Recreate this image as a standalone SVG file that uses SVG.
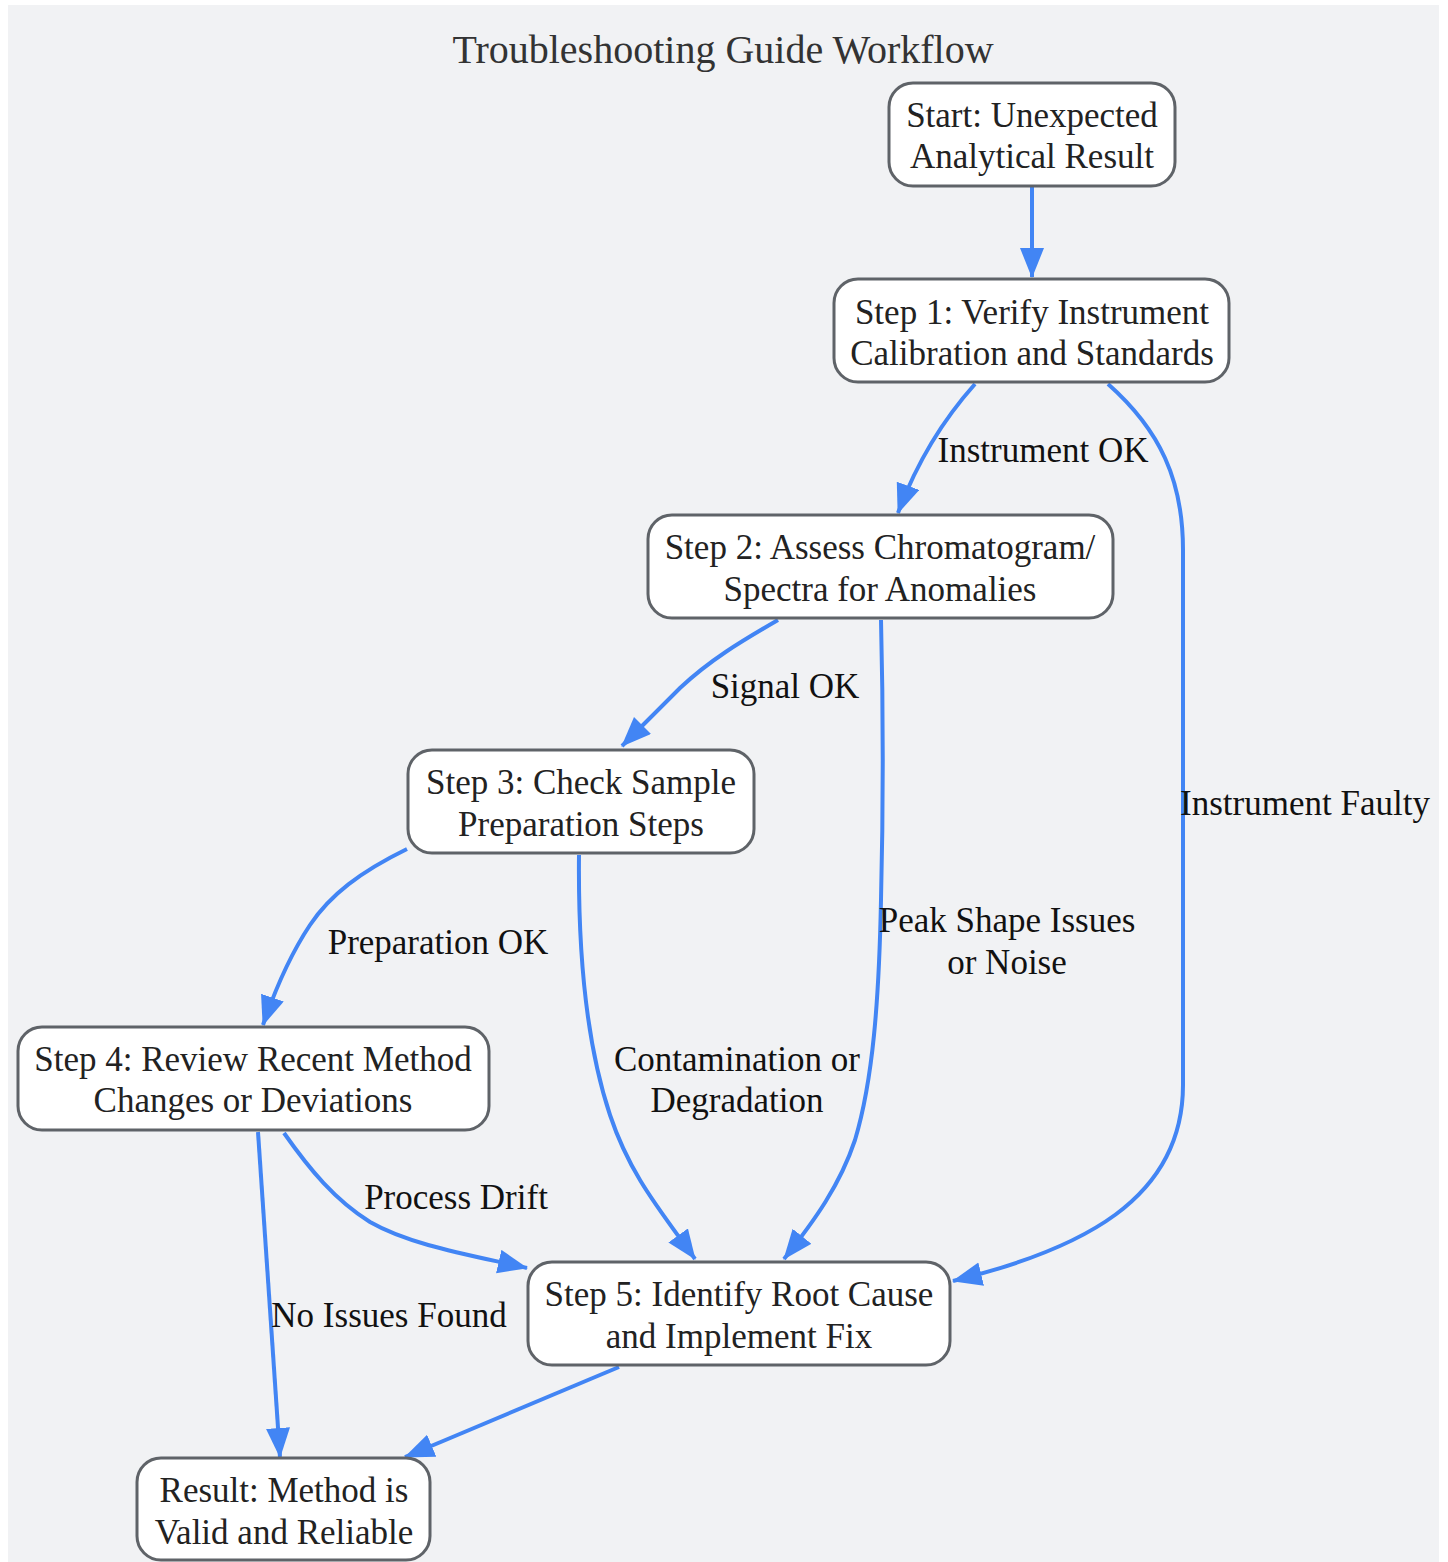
<svg xmlns="http://www.w3.org/2000/svg" width="1448" height="1562" viewBox="0 0 1448 1562">
<style>
.node rect{fill:#ffffff;stroke:#5f6368;stroke-width:3}
.node text{font-family:"Liberation Serif","Times New Roman",serif;font-size:35px;fill:#222222;text-anchor:middle}
.edge{fill:none;stroke:#4285f4;stroke-width:4;marker-end:url(#arrow)}
.lbl{font-family:"Liberation Serif","Times New Roman",serif;font-size:35px;fill:#111111;text-anchor:middle}
.title{font-family:"Liberation Serif","Times New Roman",serif;font-size:40px;fill:#333333;text-anchor:middle}
</style>
<defs>
<marker id="arrow" markerUnits="userSpaceOnUse" markerWidth="32" markerHeight="26" refX="29" refY="12" orient="auto">
<path d="M0,0 L30,12 L0,24 z" fill="#4285f4"/>
</marker>
</defs>
<rect x="0" y="0" width="1448" height="1562" fill="#ffffff"/>
<rect x="8" y="5" width="1431" height="1557" fill="#f1f2f4"/>
<text class="title" x="723" y="63">Troubleshooting Guide Workflow</text>

<g id="connectors">
<path class="edge" d="M1032,187 L1032,277"/>
<path class="edge" d="M975,384 Q925,440 898,513"/>
<path class="edge" d="M1108,384 C1160,430 1183,480 1183,550 L1183,1085 C1183,1200 1080,1250 953,1281"/>
<path class="edge" d="M778,620 C740,642 710,660 680,688 L622,746"/>
<path class="edge" d="M881,620 C883,700 883,820 881,900 C879,1000 873,1080 855,1140 C840,1185 815,1220 784,1259"/>
<path class="edge" d="M407,849 C360,872 330,895 310,925 C290,955 275,990 263,1025"/>
<path class="edge" d="M579,855 C578,950 585,1040 610,1115 C630,1175 660,1210 695,1259"/>
<path class="edge" d="M284,1133 C310,1170 335,1200 370,1222 C410,1245 470,1255 527,1268"/>
<path class="edge" d="M258,1132 L280,1457"/>
<path class="edge" d="M619,1367 L405,1457"/>
<text class="lbl" x="1043" y="462">Instrument OK</text>
<text class="lbl" x="1305" y="815">Instrument Faulty</text>
<text class="lbl" x="785" y="698">Signal OK</text>
<text class="lbl" x="1007" y="932">Peak Shape Issues</text>
<text class="lbl" x="1007" y="974">or Noise</text>
<text class="lbl" x="438" y="954">Preparation OK</text>
<text class="lbl" x="737" y="1071">Contamination or</text>
<text class="lbl" x="737" y="1112">Degradation</text>
<text class="lbl" x="456" y="1209">Process Drift</text>
<text class="lbl" x="389" y="1327">No Issues Found</text>
</g>

<g id="start" class="node">
<rect x="889" y="83" width="286" height="103" rx="24"/>
<text x="1032" y="127">Start: Unexpected</text>
<text x="1032" y="168">Analytical Result</text>
</g>
<g id="step1" class="node">
<rect x="834" y="279" width="395" height="103" rx="24"/>
<text x="1032" y="324">Step 1: Verify Instrument</text>
<text x="1032" y="365">Calibration and Standards</text>
</g>
<g id="step2" class="node">
<rect x="648" y="515" width="465" height="103" rx="24"/>
<text x="880" y="559">Step 2: Assess Chromatogram/</text>
<text x="880" y="601">Spectra for Anomalies</text>
</g>
<g id="step3" class="node">
<rect x="408" y="750" width="346" height="103" rx="24"/>
<text x="581" y="794">Step 3: Check Sample</text>
<text x="581" y="836">Preparation Steps</text>
</g>
<g id="step4" class="node">
<rect x="18" y="1027" width="471" height="103" rx="24"/>
<text x="253" y="1071">Step 4: Review Recent Method</text>
<text x="253" y="1112">Changes or Deviations</text>
</g>
<g id="step5" class="node">
<rect x="528" y="1262" width="422" height="103" rx="24"/>
<text x="739" y="1306">Step 5: Identify Root Cause</text>
<text x="739" y="1348">and Implement Fix</text>
</g>
<g id="result" class="node">
<rect x="137" y="1458" width="293" height="102" rx="24"/>
<text x="284" y="1502">Result: Method is</text>
<text x="284" y="1544">Valid and Reliable</text>
</g>
</svg>
